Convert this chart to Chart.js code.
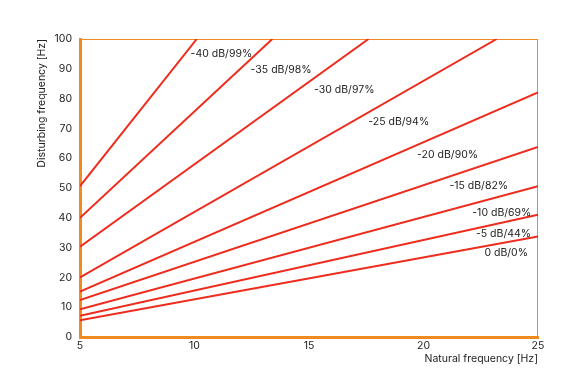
<!DOCTYPE html>
<html>
<head>
<meta charset="utf-8">
<script src="https://cdn.jsdelivr.net/npm/chart.js@4"></script>
<style>
  html, body { margin: 0; padding: 0; background: #fff; }
</style>
</head>
<body>
<canvas id="chart" width="580" height="390"></canvas>
<script>
// Данные: подписи линий и координаты концов (ось X - собственная частота, ось Y - частота возмущения)
const seriesLabels = ['0 dB/0%', '-5 dB/44%', '-10 dB/69%', '-15 dB/82%', '-20 dB/90%',
                      '-25 dB/94%', '-30 dB/97%', '-35 dB/98%', '-40 dB/99%'];
const startX = [5, 5, 5, 5, 5, 5, 5, 5, 5];
const startY = [5.6, 7.1, 9.3, 12.4, 15.2, 20.0, 30.3, 40.0, 50.6];
const endX = [25, 25, 25, 25, 25, 23.2, 17.6, 13.4, 10.1];
const endY = [33.7, 41.0, 50.6, 63.8, 82.1, 100, 100, 100, 100];
// Точки привязки подписей (в единицах осей)
const labelX = [22.66, 22.29, 22.13, 21.13, 19.72, 17.59, 15.22, 12.45, 9.83];
const labelY = [28.3, 34.7, 41.7, 50.6, 61.0, 72.1, 82.8, 89.6, 94.9];
const xTicks = [5, 10, 15, 20, 25];
const yTicks = [0, 10, 20, 30, 40, 50, 60, 70, 80, 90, 100];

const orange = '#ee8a1e';
const red = '#ee2b1c';
const fontFamily = 'Inter, "Open Sans", sans-serif';

const datasets = seriesLabels.map((name, i) => ({
    label: name,
    data: [{ x: startX[i], y: startY[i] }, { x: endX[i], y: endY[i] }],
    borderColor: red,
    borderWidth: 2,
    pointRadius: 0,
    fill: false
}));

// Рамка области графика и подписи линий
const framePlugin = {
    id: 'frame',
    beforeDatasetsDraw(chart) {
        const { ctx, chartArea: a } = chart;
        ctx.save();
        ctx.strokeStyle = orange;
        ctx.lineWidth = 1;
        ctx.strokeRect(a.left + 0.5, a.top + 0.5, a.right - a.left - 1, a.bottom - a.top);
        ctx.restore();
    },
    afterDatasetsDraw(chart) {
        const { ctx, scales } = chart;
        ctx.save();
        ctx.fillStyle = '#222';
        ctx.font = '10.5px ' + fontFamily;
        ctx.textAlign = 'left';
        ctx.textBaseline = 'middle';
        seriesLabels.forEach((name, i) => {
            ctx.fillText(name, scales.x.getPixelForValue(labelX[i]), scales.y.getPixelForValue(labelY[i]));
        });
        ctx.restore();
    }
};

new Chart(document.getElementById('chart'), {
    type: 'line',
    data: { datasets },
    options: {
        responsive: false,
        animation: false,
        devicePixelRatio: 1,
        layout: { padding: { top: 39, right: 42, bottom: 0, left: 0 } },
        plugins: { legend: { display: false }, tooltip: { enabled: false } },
        scales: {
            x: {
                type: 'linear',
                min: 5, max: 25,
                grid: { display: false, drawTicks: false },
                border: { display: true, color: orange, width: 3 },
                afterBuildTicks: s => { s.ticks = xTicks.map(v => ({ value: v })); },
                afterFit: s => { s.height = 53; },
                ticks: { padding: 3, color: '#222', font: { family: fontFamily, size: 10.5 } },
                title: {
                    display: true, text: 'Natural frequency [Hz]', align: 'end',
                    color: '#222', font: { family: fontFamily, size: 10.5 },
                    padding: { top: 0, bottom: 25 }
                }
            },
            y: {
                type: 'linear',
                min: 0, max: 100,
                grid: { display: false, drawTicks: false },
                border: { display: true, color: orange, width: 3 },
                afterBuildTicks: s => { s.ticks = yTicks.map(v => ({ value: v })); },
                afterFit: s => { s.width = 80; },
                ticks: { padding: 8, color: '#222', font: { family: fontFamily, size: 10.5 } },
                title: {
                    display: true, text: 'Disturbing frequency [Hz]', align: 'end',
                    color: '#222', font: { family: fontFamily, size: 10.5 },
                    padding: { top: 36, bottom: 0 }
                }
            }
        }
    },
    plugins: [framePlugin]
});
</script>
</body>
</html>
